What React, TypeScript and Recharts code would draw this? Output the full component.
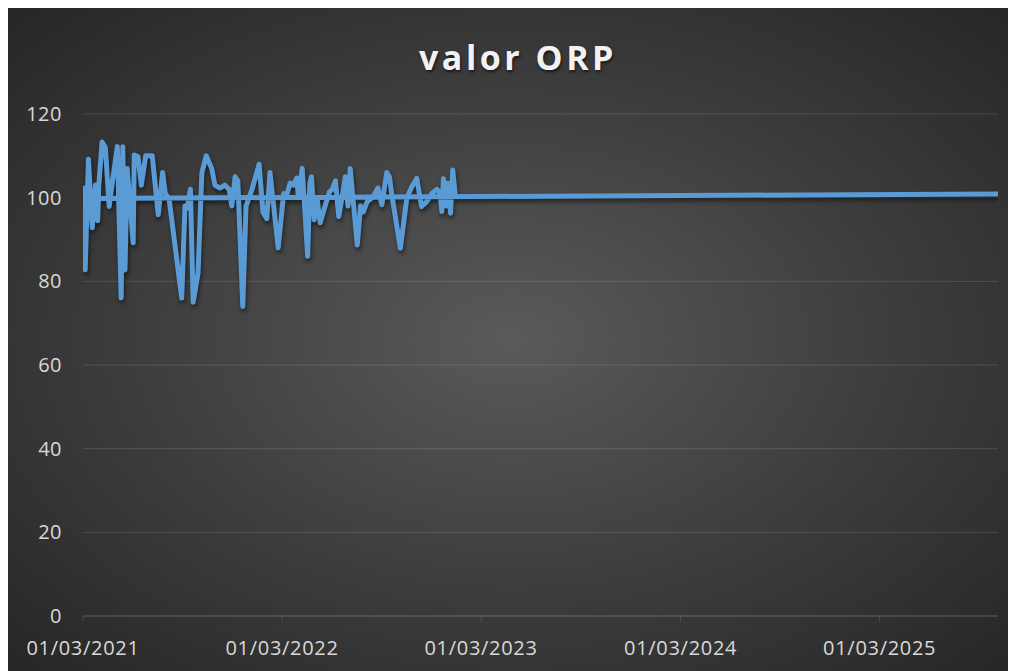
import React from "react";
import { LineChart, Line, XAxis, YAxis, CartesianGrid } from "recharts";

// Dates in data-row order (the first row is the latest reading, as in the source sheet)
const dates: string[] = [
  "2025-10-04",
  "2021-03-01", "2021-03-03", "2021-03-05", "2021-03-11", "2021-03-18", "2021-03-24", "2021-03-28", "2021-03-30",
  "2021-04-05", "2021-04-11", "2021-04-18", "2021-04-23", "2021-05-03", "2021-05-10", "2021-05-13", "2021-05-17",
  "2021-05-21", "2021-06-01", "2021-06-03", "2021-06-10", "2021-06-16", "2021-06-24", "2021-07-06", "2021-07-17",
  "2021-07-25", "2021-07-30", "2021-08-06", "2021-08-29", "2021-09-04", "2021-09-08", "2021-09-14", "2021-09-19",
  "2021-09-28", "2021-10-05", "2021-10-13", "2021-10-23", "2021-10-29", "2021-11-07", "2021-11-16", "2021-11-24",
  "2021-11-29", "2021-12-05", "2021-12-10", "2021-12-19", "2021-12-25", "2022-01-05", "2022-01-18", "2022-01-25",
  "2022-02-01", "2022-02-07", "2022-02-12", "2022-02-22", "2022-03-04", "2022-03-08", "2022-03-16", "2022-03-22",
  "2022-03-28", "2022-03-31", "2022-04-07", "2022-04-17", "2022-04-21", "2022-04-24", "2022-04-29", "2022-05-04",
  "2022-05-10", "2022-05-19", "2022-05-27", "2022-06-01", "2022-06-07", "2022-06-13", "2022-06-19", "2022-06-25",
  "2022-06-30", "2022-07-04", "2022-07-17", "2022-07-23", "2022-07-28", "2022-08-04", "2022-08-15", "2022-08-24",
  "2022-08-31", "2022-09-09", "2022-09-14", "2022-09-18", "2022-10-04", "2022-10-16", "2022-10-25", "2022-11-03",
  "2022-11-12", "2022-11-21", "2022-12-01", "2022-12-10", "2022-12-16", "2022-12-19", "2022-12-22", "2022-12-27",
  "2022-12-30", "2023-01-04", "2023-01-08", "2023-01-13",
];

const orpValues: number[] = [
  100.9,
  99.8, 102.3, 82.7, 109.2, 92.8, 103, 94.5, 103,
  113.3, 112, 97.9, 103, 112.2, 76, 112.2, 82.7,
  107, 89.2, 110.2, 109.8, 103, 110, 110, 95.9,
  106, 101, 99.6, 76, 98, 97.5, 102, 75,
  82, 106, 110, 107, 103, 102.3, 103, 102,
  98, 105, 104, 74, 98, 102, 108, 96.5,
  95, 106, 100, 88, 101, 100, 103.5, 103,
  104.7, 100, 107, 86, 103.5, 105, 94.7, 100,
  94, 98, 101.4, 102, 104, 95.5, 100, 105,
  98, 107, 88.7, 98, 96.6, 99, 100.2, 102.3,
  98.3, 106, 105, 101, 87.9, 100, 102.6, 104.6,
  97.9, 99, 101, 102, 101, 96.7, 104.5, 98,
  103.5, 96.3, 106.6, 100.3,
];

const xTickDates: string[] = ["2021-03-01", "2022-03-01", "2023-03-01", "2024-03-01", "2025-03-01"];
const yTicks: number[] = [0, 20, 40, 60, 80, 100, 120];

const toTs = (s: string) => {
  const [y, m, d] = s.split("-").map(Number);
  return Date.UTC(y, m - 1, d);
};

const data = dates.map((d, i) => ({ t: toTs(d), v: orpValues[i] }));
const xTicks = xTickDates.map(toTs);
const tMin = Math.min(...data.map((p) => p.t));
const tMax = Math.max(...data.map((p) => p.t));

const fmtDate = (t: number) => {
  const d = new Date(t);
  const dd = String(d.getUTCDate()).padStart(2, "0");
  const mm = String(d.getUTCMonth() + 1).padStart(2, "0");
  return `${dd}/${mm}/${d.getUTCFullYear()}`;
};

const FONT = "'Open Sans', 'Noto Sans', sans-serif";
const TEXT = "#d9d9d9";
const GRID = "rgba(255,255,255,0.13)";

export default function App() {
  return (
    <div
      style={{
        position: "relative",
        width: 1008,
        height: 663,
        background: "radial-gradient(ellipse farthest-corner at 50% 50%, #5a5a5a 0%, #3c3c3c 55%, #262626 100%)",
        fontFamily: FONT,
      }}
    >
      <style>{`.orp-line .recharts-line-curve { filter: drop-shadow(1px 3px 2px rgba(0,0,0,0.55)); }`}</style>
      <div
        style={{
          position: "absolute",
          top: 32,
          left: 6,
          width: "100%",
          textAlign: "center",
          fontSize: 34,
          lineHeight: "34px",
          fontWeight: 700,
          letterSpacing: 3.5,
          color: "#f2f2f2",
          textShadow: "1px 2px 3px rgba(0,0,0,0.6)",
        }}
      >
        valor ORP
      </div>
      <LineChart
        width={1008}
        height={663}
        data={data}
        margin={{ top: 106, right: 18, left: 15, bottom: 25 }}
      >
        <CartesianGrid horizontal vertical={false} stroke={GRID} strokeWidth={1} />
        <XAxis
          type="number"
          dataKey="t"
          domain={[tMin, tMax]}
          ticks={xTicks}
          tickFormatter={fmtDate}
          allowDataOverflow
          axisLine={{ stroke: GRID }}
          tickLine={{ stroke: GRID }}
          tickSize={6}
          tickMargin={19}
          height={30}
          tick={{ fill: TEXT, fontSize: 20, fontFamily: FONT, letterSpacing: 0.7 }}
        />
        <YAxis
          type="number"
          domain={[0, 120]}
          ticks={yTicks}
          axisLine={false}
          tickLine={false}
          tickSize={6}
          tickMargin={15}
          width={60}
          tick={{ fill: TEXT, fontSize: 20, fontFamily: FONT, letterSpacing: 0.5 }}
        />
        <Line
          className="orp-line"
          type="linear"
          dataKey="v"
          stroke="#5B9BD5"
          strokeWidth={5}
          strokeLinejoin="round"
          strokeLinecap="round"
          dot={false}
          activeDot={false}
          isAnimationActive={false}
        />
      </LineChart>
    </div>
  );
}
